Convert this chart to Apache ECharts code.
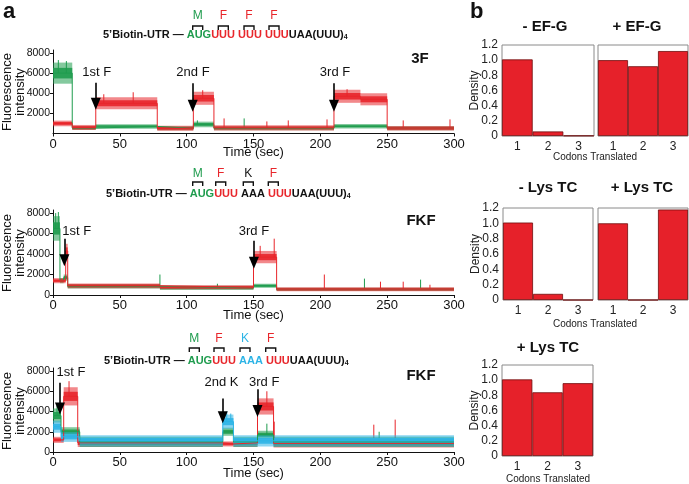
<!DOCTYPE html>
<html><head><meta charset="utf-8">
<script src="https://cdn.jsdelivr.net/npm/echarts@6/dist/echarts.min.js"></script>
<style>html,body{margin:0;padding:0;background:#fff}#c{width:689px;height:484px}</style>
</head><body><div id="c"></div>
<script>
// ---------- DATA ----------
// trace segments: [tStart, tEnd, meanLevel, halfNoise]
const top_green = [[0,14.4,6000,1050],[14.4,32,550,200],[32,78,700,220],[78,105,520,200],[105,120.4,900,280],[120.4,210.2,520,200],[210.2,250,720,220],[250,300,520,200]];
const top_red   = [[0,14.4,1000,280],[14.4,32,600,250],[32,78,3000,600],[78,105,520,250],[105,120.4,3500,650],[120.4,210.2,560,250],[210.2,230,3700,650],[230,250,3400,600],[250,300,520,230]];
const top_greenSpikes = [[4,7300],[10,7200],[108,1300],[143,1500]];
const top_redSpikes   = [[38,3900],[60,4100],[112,4300],[128,1500],[160,1200],[176,1300],[205,1400],[220,4400],[262,1300],[297,1400]];

const mid_green = [[0,5.2,6500,1200],[5.2,8,1400,250],[8,11,1700,300],[11,80,850,220],[80,150,700,200],[150,167.3,900,200],[167.3,300,550,170]];
const mid_red   = [[0,9.5,1400,250],[9.5,11,4300,700],[11,80,900,230],[80,150,750,200],[150,167.3,3700,600],[167.3,300,560,190]];
const mid_greenSpikes = [[2,8000],[4,8100],[80,2000],[123,1100],[233,1600],[275,1500]];
const mid_redSpikes   = [[155,4800],[165.5,5500],[203,2000],[245,1300],[262,1300],[282,1000]];

const bot_red   = [[0,8,1200,300],[8,18.5,5500,900],[18.5,127,900,400],[127,135,800,250],[135,153,900,400],[153,165,4500,800],[165,300,850,400]];
const bot_green = [[0,6,3600,700],[6,20,2000,450],[20,127,1000,500],[127,135,2000,400],[135,153,1000,500],[153,165,1700,400],[165,300,1000,500]];
const bot_cyan  = [[0,6,2500,600],[6,20,1500,500],[20,127,1100,550],[127,135,3000,700],[135,300,1100,550]];
const bot_redSpikes   = [[12,7000],[160,6000],[165.5,3000],[240,2700],[256,3200]];
const bot_greenSpikes = [[3,4600],[160,2800],[244,2000]];
const bot_cyanSpikes  = [[130,4000],[133,3800]];

// arrows: [time, fromValue, tipValue]
const top_arrows = [[32,5050,2950],[104.5,5000,2750],[210.2,5000,2750]];
const mid_arrows = [[8.5,5500,3400],[150.3,5300,3150]];
const bot_arrows = [[5.2,6850,4300],[127,5280,3440],[153,6200,4060]];
// arrow labels: [text, time, value]
const top_labels = [['1st F',32.7,6050],['2nd F',104.7,6050],['3rd F',211,6050]];
const mid_labels = [['1st F',17.7,6200],['3rd F',150.3,6200]];
const bot_labels = [['1st F',13.5,7900],['2nd K',126,6900],['3rd F',158,6900]];

const timeTicks = [0,50,100,150,200,250,300];
const topYTicks = [2000,4000,6000,8000];
const yTicks = [0,2000,4000,6000,8000];

// panel b
const codons = ['1','2','3'];
const efgMinus = [1.01, 0.06, 0.005];
const efgPlus  = [1.0, 0.92, 1.12];
const lysMinus = [1.01, 0.08, 0];
const lysPlus  = [1.0, 0, 1.18];
const lysPlus2 = [1.01, 0.84, 0.96];
const densityTicks = [0,0.2,0.4,0.6,0.8,1.0,1.2];

// ---------- CHART ----------
const FONT = '"Liberation Sans", Arial, Helvetica, sans-serif';
const C_RED='#e8262b', C_GREEN='#1f9c4e', C_CYAN='#2db4e6';
const chart = echarts.init(document.getElementById('c'));

function levelAt(segs,t){for(const s of segs){if(t>=s[0]&&t<=s[1])return s[2];}return segs[segs.length-1][2];}

function bandSeries(segs, frac, color, opacity, gi){
  return {type:'custom', xAxisIndex:gi, yAxisIndex:gi, silent:true,
    data: segs.map(s=>[s[0],s[1],s[2]-s[3]*frac,s[2]+s[3]*frac]),
    renderItem:(params,api)=>{
      const p0=api.coord([api.value(0),api.value(3)]);
      const p1=api.coord([api.value(1),api.value(2)]);
      return {type:'rect',shape:{x:p0[0],y:p0[1],width:p1[0]-p0[0],height:p1[1]-p0[1]},style:{fill:color,opacity:opacity}};
    }};
}
function spikeSeries(segs, spikes, color, gi){
  return {type:'custom', xAxisIndex:gi, yAxisIndex:gi, silent:true,
    data: spikes.map(s=>[s[0],levelAt(segs,s[0]),s[1]]),
    renderItem:(params,api)=>{
      const a=api.coord([api.value(0),api.value(1)]);
      const b=api.coord([api.value(0),api.value(2)]);
      return {type:'line',shape:{x1:a[0],y1:a[1],x2:b[0],y2:b[1]},style:{stroke:color,lineWidth:1}};
    }};
}
function meanSeries(segs,color,gi){
  return {type:'line', xAxisIndex:gi, yAxisIndex:gi, silent:true, showSymbol:false, animation:false,
    data: segs.flatMap(s=>[[s[0],s[2]],[s[1],s[2]]]),
    lineStyle:{color:color,width:1}};
}

const panels = [
  {top:50, bottom:350.5, tg:12, traces:[[top_green,top_greenSpikes,C_GREEN],[top_red,top_redSpikes,C_RED]], arrows:top_arrows, labels:top_labels, yt:topYTicks},
  {top:210, bottom:189, tg:13.5, traces:[[mid_green,mid_greenSpikes,C_GREEN],[mid_red,mid_redSpikes,C_RED]], arrows:mid_arrows, labels:mid_labels, yt:yTicks},
  {top:368, bottom:32, tg:14.5, traces:[[bot_red,bot_redSpikes,C_RED],[bot_green,bot_greenSpikes,C_GREEN],[bot_cyan,bot_cyanSpikes,C_CYAN]], arrows:bot_arrows, labels:bot_labels, yt:yTicks}
];

const grids=[], xAxes=[], yAxes=[], series=[];
panels.forEach((p,gi)=>{
  grids.push({left:53, right:235, top:p.top, bottom:p.bottom, containLabel:false, outerBoundsMode:'none'});
  xAxes.push({gridIndex:gi, type:'value', min:0, max:300, interval:50,
    axisLine:{lineStyle:{color:'#111',width:1}}, axisTick:{length:3,lineStyle:{color:'#111'}},
    axisLabel:{fontSize:13, color:'#111', fontFamily:FONT, margin:4, customValues:timeTicks, formatter:v=>String(v)},
    splitLine:{show:false},
    name:'Time (sec)', nameLocation:'middle', nameGap:p.tg, nameMoveOverlap:false, nameTextStyle:{fontSize:13,color:'#111',fontFamily:FONT}});
  yAxes.push({gridIndex:gi, type:'value', min:0, max:8300, interval:2000,
    axisLine:{show:true,lineStyle:{color:'#111',width:1}},
    axisTick:{show:true,length:3,lineStyle:{color:'#111'},customValues:p.yt},
    axisLabel:{fontSize:10.5,color:'#111',fontFamily:FONT,margin:3,customValues:p.yt, formatter:v=>String(v)},
    splitLine:{show:false}});
  p.traces.forEach(tr=>{
    series.push(bandSeries(tr[0],1,tr[2],0.55,gi));
    series.push(bandSeries(tr[0],0.5,tr[2],0.9,gi));
    series.push(spikeSeries(tr[0],tr[1],tr[2],gi));
    series.push(meanSeries(tr[0],tr[2],gi));
  });
  series.push({type:'line', xAxisIndex:gi, yAxisIndex:gi, data:[], silent:true,
    markLine:{silent:true, animation:false, symbol:['none','triangle'], symbolSize:[10,12],
      lineStyle:{color:'#000',width:1.6,type:'solid'}, label:{show:false},
      data:p.arrows.map(a=>[{coord:[a[0],a[1]]},{coord:[a[0],a[2]]}])},
    markPoint:{silent:true, animation:false, symbol:'circle', symbolSize:0,
      label:{show:true,position:'inside',fontSize:13,color:'#111',fontFamily:FONT,formatter:d=>d.name},
      data:p.labels.map(l=>({name:l[0],coord:[l[1],l[2]]}))}
  });
});

// bar grids
const barDefs = [
  {left:502, width:92, top:45, height:91, data:efgMinus, yl:true},
  {left:598, width:90, top:45, height:91, data:efgPlus, yl:false},
  {left:503, width:90, top:208, height:92, data:lysMinus, yl:true},
  {left:598, width:90, top:208, height:92, data:lysPlus, yl:false},
  {left:502, width:91, top:365, height:91, data:lysPlus2, yl:true}
];
barDefs.forEach((b,i)=>{
  const gi = 3+i;
  grids.push({left:b.left, width:b.width, top:b.top, height:b.height, show:true, borderColor:'#8a8a8a', borderWidth:1, backgroundColor:'#fff', containLabel:false, outerBoundsMode:'none'});
  xAxes.push({gridIndex:gi, type:'category', data:codons, axisLine:{show:false}, axisTick:{show:false},
    axisLabel:{fontSize:12,color:'#222',fontFamily:FONT,margin:5}});
  yAxes.push({gridIndex:gi, type:'value', min:0, max:1.2, interval:0.2, axisLine:{show:false}, axisTick:{show:false},
    splitLine:{show:false},
    axisLabel:{show:b.yl, fontSize:12, color:'#222', fontFamily:FONT, margin:4, customValues:densityTicks,
      formatter:v=>v===0?'0':v.toFixed(1)},
    name:b.yl?'Density':'', nameLocation:'middle', nameRotate:90, nameGap:21, nameMoveOverlap:false,
    nameTextStyle:{fontSize:12,color:'#222',fontFamily:FONT}});
  series.push({type:'bar', xAxisIndex:gi, yAxisIndex:gi, data:b.data, barCategoryGap:'0%', barWidth:'100%', silent:true,
    itemStyle:{color:'#e6212a', borderColor:'#6e0d0d', borderWidth:0.8}});
});

function txt(x,y,text,font,fill,align){
  return {type:'text', x:x, y:y, silent:true, style:{text:text, font:font, fill:fill||'#111', align:align||'center', verticalAlign:'middle'}};
}
function yname(y){
  return {type:'text', x:14, y:y, rotation:Math.PI/2, silent:true,
    style:{text:'Fluorescence\nintensity', font:'13px '+FONT, fill:'#111', align:'center', verticalAlign:'middle', lineHeight:13}};
}
function bracket(x,y){
  return {type:'polyline', silent:true, shape:{points:[[x-5,y+4],[x-5,y],[x+5,y],[x+5,y+4]]}, style:{stroke:'#111',lineWidth:1.4,fill:null}};
}
const BOLD = 'bold 11px '+FONT;
function seq(x,y,mid){
  return {type:'text', x:x, y:y, silent:true, style:{
    text:'{k|5\u2019Biotin-UTR \u2014 }{g|AUG}{r|UUU}{k| }'+mid+'{k| }{r|UUU}{k|UAA(UUU)}{s|4}',
    verticalAlign:'middle', align:'left',
    rich:{k:{font:BOLD,fill:'#111'},g:{font:BOLD,fill:C_GREEN},r:{font:BOLD,fill:C_RED},c:{font:BOLD,fill:C_CYAN},
      s:{font:'bold 7px '+FONT,fill:'#111',padding:[5,0,0,0]}}}};
}
const letterFont = '12px '+FONT;
const graphics = [
  txt(3,12,'a','bold 22px '+FONT,'#111','left'),
  txt(470,12,'b','bold 22px '+FONT,'#111','left'),
  yname(92), yname(253), yname(411),
  txt(545,27,'- EF-G','bold 15px '+FONT), txt(637,27,'+ EF-G','bold 15px '+FONT),
  txt(548,188,'- Lys TC','bold 15px '+FONT), txt(642,188,'+ Lys TC','bold 15px '+FONT),
  txt(548,348,'+ Lys TC','bold 15px '+FONT),
  txt(595,157,'Codons Translated','10px '+FONT,'#222'), txt(595,324,'Codons Translated','10px '+FONT,'#222'),
  txt(548,479,'Codons Translated','10px '+FONT,'#222'),
  txt(420,59,'3F','bold 15px '+FONT), txt(421,221,'FKF','bold 15px '+FONT), txt(421,376,'FKF','bold 15px '+FONT),
  seq(103,35,'{r|UUU}'), seq(106,194,'{k|AAA}'), seq(104,361,'{c|AAA}'),
  txt(197.7,16,'M',letterFont,C_GREEN), txt(223.3,16,'F',letterFont,C_RED), txt(249,16,'F',letterFont,C_RED), txt(274,16,'F',letterFont,C_RED),
  txt(197.7,174,'M',letterFont,C_GREEN), txt(220.7,174,'F',letterFont,C_RED), txt(248.3,174,'K',letterFont,'#111'), txt(273.3,174,'F',letterFont,C_RED),
  txt(194.3,339,'M',letterFont,C_GREEN), txt(219,339,'F',letterFont,C_RED), txt(245,339,'K',letterFont,C_CYAN), txt(270.7,339,'F',letterFont,C_RED),
  bracket(197.7,26), bracket(223.3,26), bracket(249,26), bracket(274,26),
  bracket(197.7,182), bracket(220.7,182), bracket(248.3,182), bracket(273.3,182),
  bracket(194.3,348), bracket(219,348), bracket(245,348), bracket(270.7,348)
];

chart.setOption({animation:false, backgroundColor:'#fff', grid:grids, xAxis:xAxes, yAxis:yAxes, series:series, graphic:graphics});
</script></body></html>
